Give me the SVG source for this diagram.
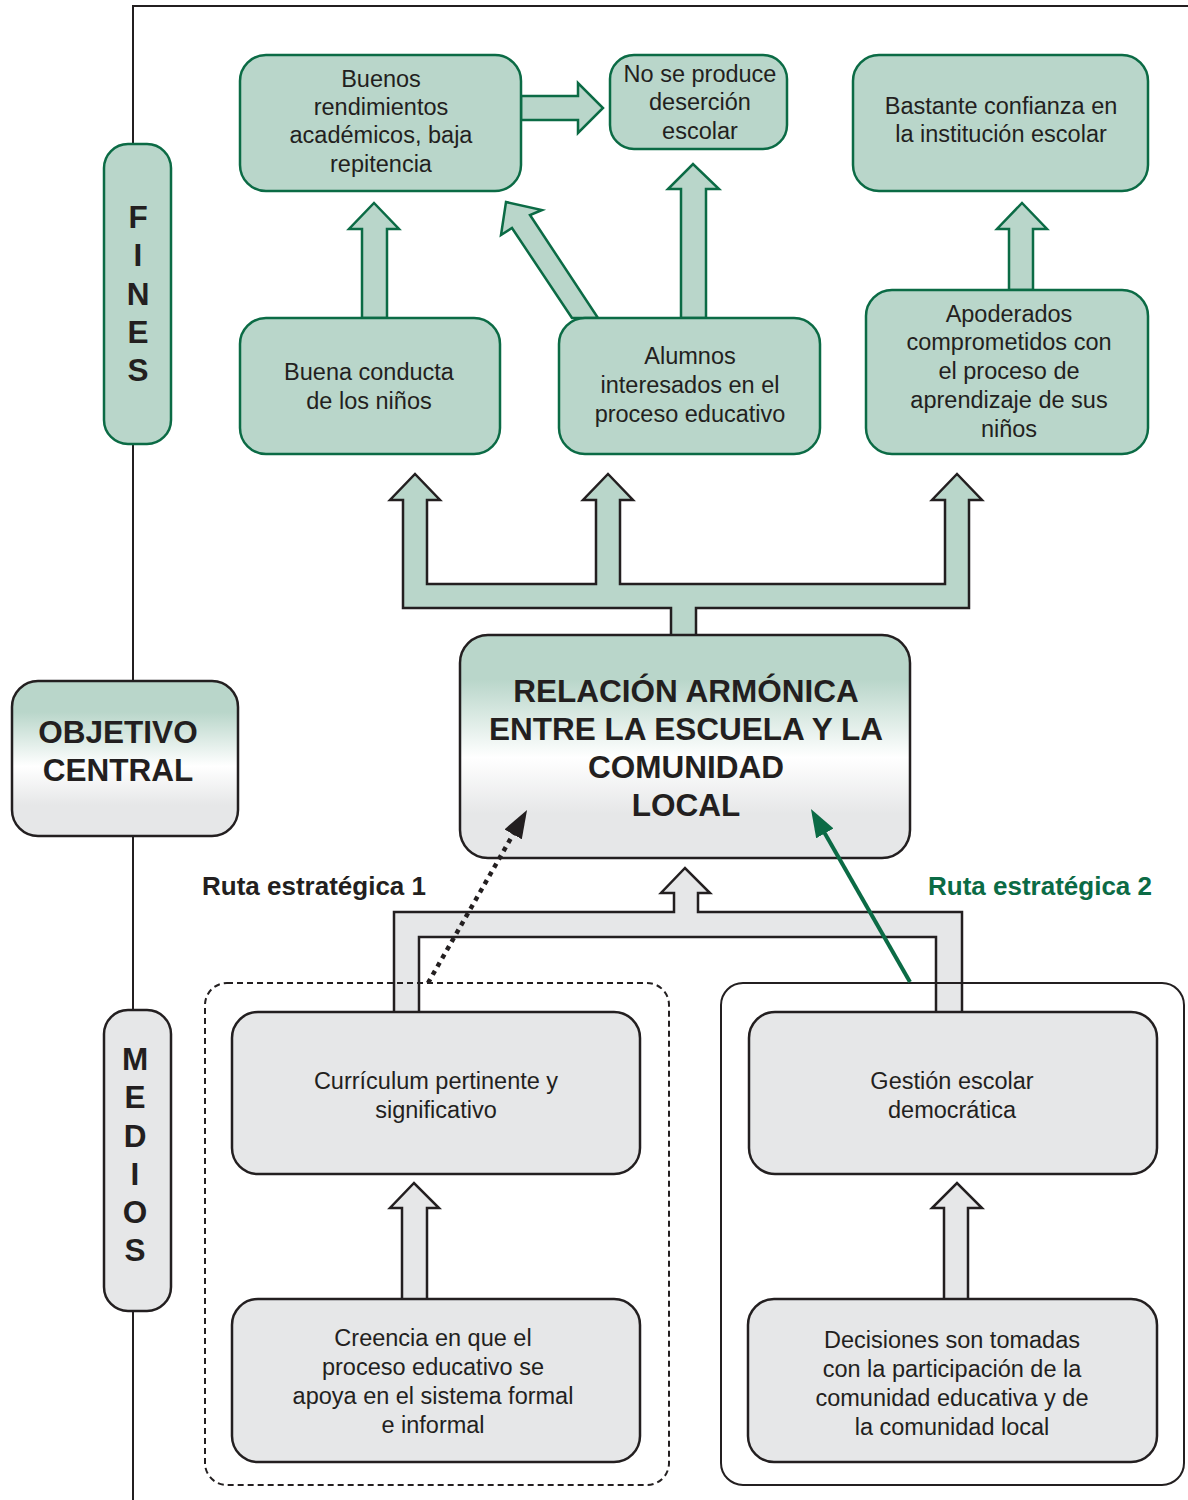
<svg xmlns="http://www.w3.org/2000/svg" width="1188" height="1500" viewBox="0 0 1188 1500">
<defs>
<linearGradient id="grad" x1="0" y1="0" x2="0" y2="1">
<stop offset="0" stop-color="#b9d6ca"/>
<stop offset="0.2" stop-color="#b9d6ca"/>
<stop offset="0.55" stop-color="#ffffff"/>
<stop offset="0.8" stop-color="#e6e7e8"/>
<stop offset="1" stop-color="#e6e7e8"/>
</linearGradient>
<marker id="headG" viewBox="0 0 28 20" refX="8" refY="10" markerWidth="28" markerHeight="20" markerUnits="userSpaceOnUse" orient="auto">
<path d="M0 0 L28 10 L0 20 Z" fill="#0b6b45"/>
</marker>
<marker id="headK" viewBox="0 0 28 20" refX="8" refY="10" markerWidth="28" markerHeight="20" markerUnits="userSpaceOnUse" orient="auto">
<path d="M0 0 L28 10 L0 20 Z" fill="#231f20"/>
</marker>
</defs>
<style>
.g{fill:#b9d6ca;stroke:#0b6b45;stroke-width:2.5}
.k{fill:#e6e7e8;stroke:#231f20;stroke-width:2.5}
.fork{fill:#b9d6ca;stroke:#231f20;stroke-width:2.5}
.gfork{fill:#e6e7e8;stroke:#231f20;stroke-width:2.5}
.t{font-family:"Liberation Sans",Arial,sans-serif;font-size:23.5px;fill:#231f20;text-anchor:middle}
.b{font-family:"Liberation Sans",Arial,sans-serif;font-size:31.5px;font-weight:bold;fill:#231f20;text-anchor:middle}
.r{font-family:"Liberation Sans",Arial,sans-serif;font-size:26px;font-weight:bold}
.frame{fill:none;stroke:#231f20;stroke-width:2}
</style>
<rect width="1188" height="1500" fill="#ffffff"/>

<g id="frame">
<path class="frame" d="M133 1500 L133 6 L1188 6"/>
</g>

<g id="connectors">
<path class="g" d="M521 96 L578 96 L578 83 L603 108 L578 133 L578 120 L521 120 Z"/>
<path class="g" d="M681 318 L681 189 L668 189 L693 164 L719 189 L706 189 L706 318 Z"/>
<path class="g" d="M572 318 L512 228 L501 235 L506 202 L542 210 L530 215 L598 318 Z"/>
<path class="g" d="M362 318 L362 229 L349 229 L374 203 L399 229 L387 229 L387 318 Z"/>
<path class="g" d="M1009 290 L1009 229 L997 229 L1022 203 L1047 229 L1033 229 L1033 290 Z"/>
<path class="fork" d="M671 637 L671 608 L403 608 L403 500 L390 500 L415 474 L440 500 L427 500 L427 584 L596 584 L596 500 L583 500 L608 474 L633 500 L620 500 L620 584 L945 584 L945 500 L932 500 L957 474 L982 500 L969 500 L969 608 L696 608 L696 637 Z"/>
<path class="gfork" d="M394 1014 L394 912 L674 912 L674 893 L661 893 L685 868 L710 893 L698 893 L698 912 L962 912 L962 1014 L936 1014 L936 937 L419 937 L419 1014 Z"/>
<path class="k" d="M402 1300 L402 1208 L390 1208 L414 1183 L439 1208 L427 1208 L427 1300 Z"/>
<path class="k" d="M944 1300 L944 1208 L932 1208 L957 1183 L982 1208 L968 1208 L968 1300 Z"/>
</g>

<g id="groups">
<rect x="205" y="983" width="464" height="502" rx="22" fill="none" stroke="#231f20" stroke-width="2" stroke-dasharray="6 4"/>
<rect x="721" y="983" width="463" height="502" rx="22" fill="none" stroke="#231f20" stroke-width="2"/>
</g>

<g id="fines">
<rect class="g" x="104" y="144" width="67" height="300" rx="24"/>
<text class="b" x="138" y="228">F</text>
<text class="b" x="138" y="266">I</text>
<text class="b" x="138" y="305">N</text>
<text class="b" x="138" y="343">E</text>
<text class="b" x="138" y="381">S</text>
</g>

<g id="medios">
<rect class="k" x="104" y="1010" width="67" height="301" rx="24"/>
<text class="b" x="135" y="1070">M</text>
<text class="b" x="135" y="1108">E</text>
<text class="b" x="135" y="1147">D</text>
<text class="b" x="135" y="1185">I</text>
<text class="b" x="135" y="1223">O</text>
<text class="b" x="135" y="1261">S</text>
</g>

<g id="objetivo">
<rect x="12" y="681" width="226" height="155" rx="26" fill="url(#grad)" stroke="#231f20" stroke-width="2.5"/>
<text class="b" x="118" y="743">OBJETIVO</text>
<text class="b" x="118" y="781">CENTRAL</text>
</g>

<g id="n-buenos">
<rect class="g" x="240" y="55" width="281" height="136" rx="26"/>
<text class="t" x="381" y="87">Buenos</text>
<text class="t" x="381" y="115">rendimientos</text>
<text class="t" x="381" y="143">académicos, baja</text>
<text class="t" x="381" y="172">repitencia</text>
</g>

<g id="n-desercion">
<rect class="g" x="610" y="55" width="177" height="94" rx="24"/>
<text class="t" x="700" y="82">No se produce</text>
<text class="t" x="700" y="110">deserción</text>
<text class="t" x="700" y="139">escolar</text>
</g>

<g id="n-confianza">
<rect class="g" x="853" y="55" width="295" height="136" rx="26"/>
<text class="t" x="1001" y="114">Bastante confianza en</text>
<text class="t" x="1001" y="142">la institución escolar</text>
</g>

<g id="n-conducta">
<rect class="g" x="240" y="318" width="260" height="136" rx="26"/>
<text class="t" x="369" y="380">Buena conducta</text>
<text class="t" x="369" y="409">de los niños</text>
</g>

<g id="n-alumnos">
<rect class="g" x="559" y="318" width="261" height="136" rx="26"/>
<text class="t" x="690" y="364">Alumnos</text>
<text class="t" x="690" y="393">interesados en el</text>
<text class="t" x="690" y="422">proceso educativo</text>
</g>

<g id="n-apoderados">
<rect class="g" x="866" y="290" width="282" height="164" rx="26"/>
<text class="t" x="1009" y="322">Apoderados</text>
<text class="t" x="1009" y="350">comprometidos con</text>
<text class="t" x="1009" y="379">el proceso de</text>
<text class="t" x="1009" y="408">aprendizaje de sus</text>
<text class="t" x="1009" y="437">niños</text>
</g>

<g id="n-central">
<rect x="460" y="635" width="450" height="223" rx="28" fill="url(#grad)" stroke="#231f20" stroke-width="2.5"/>
<text class="b" x="686" y="702">RELACIÓN ARMÓNICA</text>
<text class="b" x="686" y="740">ENTRE LA ESCUELA Y LA</text>
<text class="b" x="686" y="778">COMUNIDAD</text>
<text class="b" x="686" y="816">LOCAL</text>
</g>

<g id="labels">
<text class="r" x="202" y="895" fill="#231f20">Ruta estratégica 1</text>
<text class="r" x="928" y="895" fill="#0b6b45">Ruta estratégica 2</text>
</g>

<g id="n-curriculum">
<rect class="k" x="232" y="1012" width="408" height="162" rx="26"/>
<text class="t" x="436" y="1089">Currículum pertinente y</text>
<text class="t" x="436" y="1118">significativo</text>
</g>

<g id="n-gestion">
<rect class="k" x="749" y="1012" width="408" height="162" rx="26"/>
<text class="t" x="952" y="1089">Gestión escolar</text>
<text class="t" x="952" y="1118">democrática</text>
</g>

<g id="n-creencia">
<rect class="k" x="232" y="1299" width="408" height="163" rx="26"/>
<text class="t" x="433" y="1346">Creencia en que el</text>
<text class="t" x="433" y="1375">proceso educativo se</text>
<text class="t" x="433" y="1404">apoya en el sistema formal</text>
<text class="t" x="433" y="1433">e informal</text>
</g>

<g id="n-decisiones">
<rect class="k" x="748" y="1299" width="409" height="163" rx="26"/>
<text class="t" x="952" y="1348">Decisiones son tomadas</text>
<text class="t" x="952" y="1377">con la participación de la</text>
<text class="t" x="952" y="1406">comunidad educativa y de</text>
<text class="t" x="952" y="1435">la comunidad local</text>
</g>

<g id="route-connectors">
<line x1="428" y1="983" x2="517.1" y2="827.4" stroke="#231f20" stroke-width="4.5" stroke-dasharray="4.5 5" marker-end="url(#headK)"/>
<line x1="910" y1="982" x2="820.9" y2="826.4" stroke="#0b6b45" stroke-width="4" marker-end="url(#headG)"/>
</g>
</svg>
